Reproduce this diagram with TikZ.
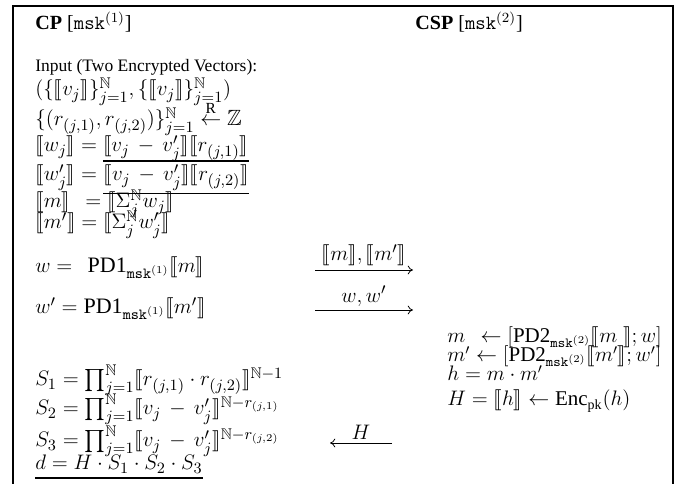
\documentclass[tikz,border=0pt]{standalone}
\usepackage{amsmath,amssymb}
\usepackage{stmaryrd}
\usepackage{fontspec}
\setmainfont{Liberation Serif}
\usetikzlibrary{arrows.meta}
\newcommand{\enc}[1]{\llbracket #1\rrbracket}
\newcommand{\msk}[1]{\mathtt{msk}^{(#1)}}
\begin{document}
\begin{tikzpicture}[x=0.5714pt,y=-0.5714pt,
  txt/.style={anchor=base west, inner sep=0pt, font=\fontsize{10}{12}\selectfont},
  head/.style={anchor=base west, inner sep=0pt, font=\fontsize{11.5}{13}\selectfont},
  mth/.style={anchor=base west, inner sep=0pt, font=\fontsize{12.6}{15}\selectfont},
  rmth/.style={anchor=base west, inner sep=0pt, font=\fontsize{12}{14}\selectfont},
  lbl/.style={inner sep=0pt, font=\fontsize{12.5}{14}\selectfont},
  msgarrow/.style={-{To[length=3pt,width=5pt]}, line width=0.45pt},
  rulel/.style={line width=0.9pt},
  frame/.style={line width=1.15pt}]
\useasboundingbox (0,0) rectangle (681,484);
% frame (open at the bottom)
\draw[frame] (13,490) -- (13,6) -- (673,6) -- (673,490);
% headers
\node[head] (cp) at (35,30) {\textbf{CP} [$\msk{1}$]};
\node[head] (csp) at (415,30) {\textbf{CSP} [$\msk{2}$]};
% left column
\node[txt] (in) at (35,72) {Input (Two Encrypted Vectors):};
\node[mth] (v) at (35,96) {$(\{\enc{v_j}\}_{j=1}^{\mathbb{N}},\{\enc{v_j}\}_{j=1}^{\mathbb{N}})$};
\node[mth] (r) at (35,126) {$\{(r_{(j,1)},r_{(j,2)})\}_{j=1}^{\mathbb{N}}\overset{\mathrm{R}}{\leftarrow}\mathbb{Z}$};
\node[mth] (wj) at (35,152) {$\enc{w_j}=\enc{v_j\,-\,v'_j}\enc{r_{(j,1)}}$};
\node[mth] (wpj) at (35,181) {$\enc{w'_j}={}$};
\node[mth, anchor=base west] (wpjr) at (wpj.base east) {$\enc{v_j\,-\,v'_j}\enc{r_{(j,2)}}$};
\draw[rulel] ([yshift=2pt]wpjr.north west) -- ([yshift=2pt]wpjr.north east);
\draw[rulel] ([yshift=-1.6pt]wpjr.south west) -- ([yshift=-1.6pt]wpjr.south east);
\node[mth] (m) at (35,208) {$\enc{m}\;\,=\enc{\Sigma_j^{\mathbb{N}}w_j}$};
\node[mth] (mp) at (35,229) {$\enc{m'}=\enc{\Sigma_j^{\mathbb{N}}w'_j}$};
\node[mth] (w) at (35,273) {$w=\;\,\mathrm{PD1}_{\msk{1}}\enc{m}$};
\node[mth] (wp) at (35,314) {$w'=\mathrm{PD1}_{\msk{1}}\enc{m'}$};
\node[mth] (s1) at (35,386) {$S_1=\prod_{j=1}^{\mathbb{N}}\enc{r_{(j,1)}\cdot r_{(j,2)}}^{\mathbb{N}-1}$};
\node[mth] (s2) at (35,415) {$S_2=\prod_{j=1}^{\mathbb{N}}\enc{v_j\,-\,v'_j}^{\mathbb{N}-r_{(j,1)}}$};
\node[mth] (s3) at (35,447) {$S_3=\prod_{j=1}^{\mathbb{N}}\enc{v_j\,-\,v'_j}^{\mathbb{N}-r_{(j,2)}}$};
\node[mth] (d) at (35,470) {$d=H\cdot S_1\cdot S_2\cdot S_3$};
\draw[rulel] ([yshift=-2.5pt]d.south west) -- ([yshift=-2.5pt]d.south east);
% right column
\node[rmth] (rm) at (447,343) {$m\;\,\leftarrow[\mathrm{PD2}_{\msk{2}}\enc{m\;}; w]$};
\node[rmth] (rmp) at (447,362) {$m'\leftarrow[\mathrm{PD2}_{\msk{2}}\enc{m'}; w']$};
\node[rmth] (h) at (447,381) {$h=m\cdot m'$};
\node[rmth] (hh) at (447,406) {$H=\enc{h}\leftarrow\mathrm{Enc}_{\mathrm{pk}}(h)$};
% messages
\coordinate (a1s) at (315,270); \coordinate (a1e) at (413,270);
\coordinate (a2s) at (315,310); \coordinate (a2e) at (413,310);
\coordinate (a3s) at (392,443); \coordinate (a3e) at (330,443);
\draw[msgarrow] (a1s) -- node[lbl, above=2pt] (l1) {$\enc{m},\enc{m'}$} (a1e);
\draw[msgarrow] (a2s) -- node[lbl, above=2pt] (l2) {$w,w'$} (a2e);
\draw[msgarrow] (a3s) -- node[lbl, above=2pt] (l3) {$H$} (a3e);
\end{tikzpicture}
\end{document}
